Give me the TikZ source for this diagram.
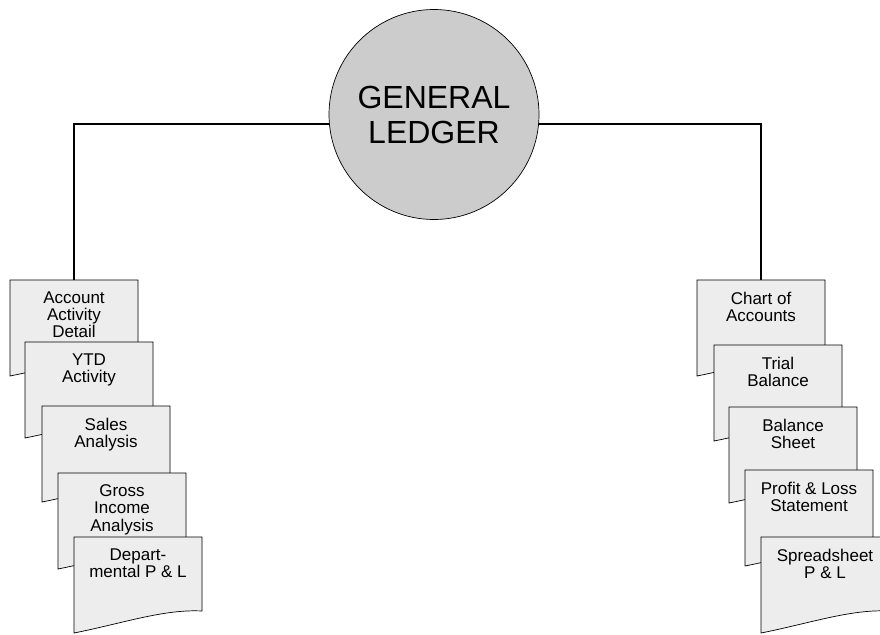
\documentclass[tikz,border=0pt]{standalone}
\usepackage{fontspec}
\setmainfont{Liberation Sans}
\begin{document}
\begin{tikzpicture}[x=1pt, y=-1pt,
    link/.style={line width=2pt},
    page/.style={draw=black, fill=black!7, line width=0.7pt},
    pagetext/.style={anchor=north, align=center, inner xsep=0pt, inner ysep=11.5pt, font=\fontsize{17}{17.3}\selectfont},
    ledger/.style={circle, draw=black, fill=black!20, line width=0.7pt, minimum size=210pt, inner sep=0pt, align=center, font=\fontsize{32}{35}\selectfont}]
  \useasboundingbox (0,0) rectangle (880,634);
  \clip (0,0) rectangle (880,634);

  % General ledger circle
  \node[ledger] (gl) at (434,114.5) {GENERAL\\LEDGER};

  % Report pages, left stack then right stack
  \foreach \name/\px/\py/\txt in {acct/10/280/{Account\\Activity\\Detail}, ytd/25/342/{YTD\\Activity}, sales/42/406/{Sales\\Analysis}, gross/58/473/{Gross\\Income\\Analysis}, dept/74/537/{Depart-\\mental P \& L}, chart/697/280/{Chart of\\Accounts}, trial/714/345/{Trial\\Balance}, balance/729/407/{Balance\\Sheet}, pl/745/470/{Profit \& Loss\\Statement}, sheet/761/537/{Spreadsheet\\P \& L}} {
    \begin{scope}[shift={(\px,\py)}]
      \filldraw[page] (0,0) -- (128,0) -- (128,74) .. controls (90,72) and (50,86) .. (0,96) -- cycle;
      \node[pagetext] (\name) at (64,0) {\txt};
    \end{scope}
  }

  % Links from the ledger
  \draw[link] (gl.185) -| (acct.north);
  \draw[link] (gl.-5) -| (chart.north);
\end{tikzpicture}
\end{document}
